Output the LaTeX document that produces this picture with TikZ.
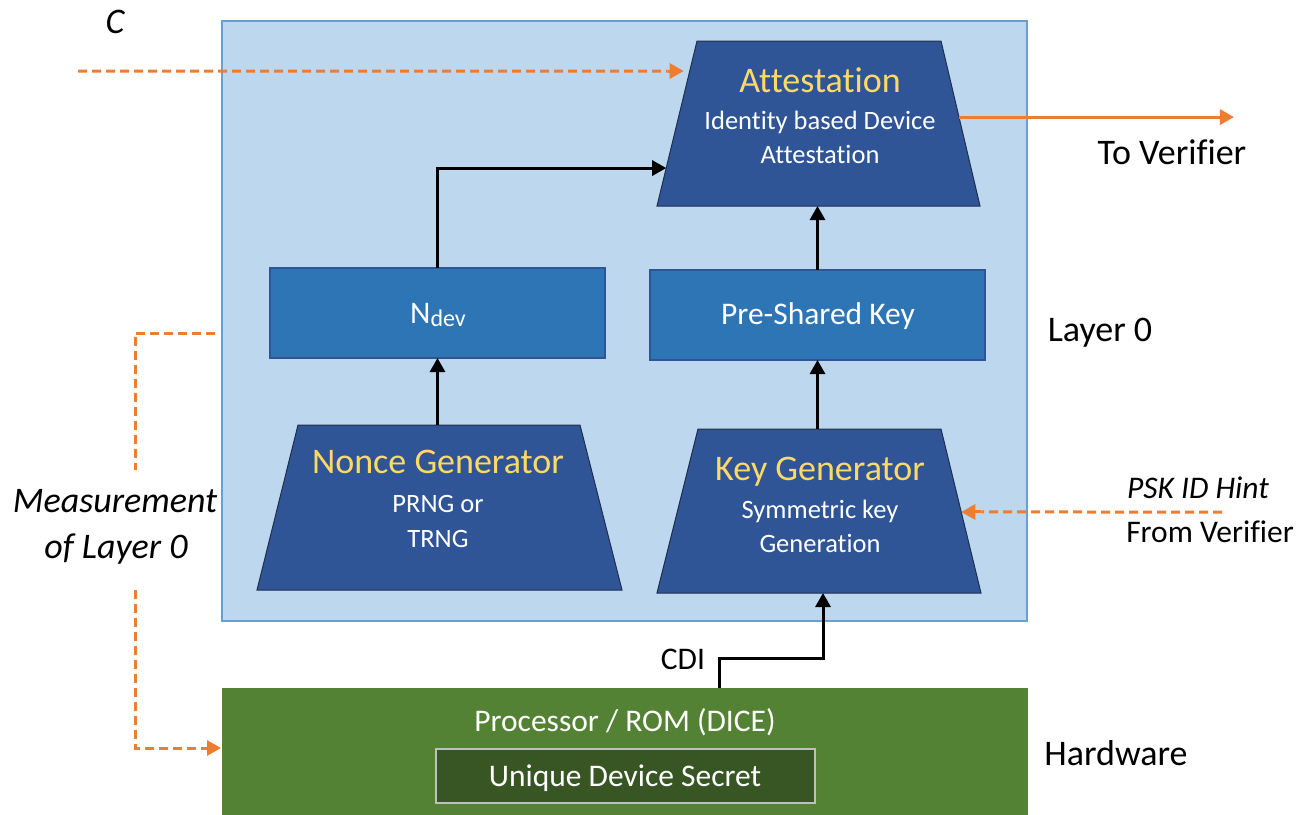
\documentclass[tikz,border=0pt]{standalone}
\usepackage{fontspec}
\setmainfont{Carlito}[Ligatures=NoCommon]
\usetikzlibrary{arrows.meta,calc}
\definecolor{layerfill}{HTML}{BDD7EE}
\definecolor{layeredge}{HTML}{6A9FD0}
\definecolor{trapblue}{HTML}{2F5597}
\definecolor{trapedge}{HTML}{1F2F50}
\definecolor{boxblue}{HTML}{2E75B6}
\definecolor{boxedge}{HTML}{2F5597}
\definecolor{headyellow}{HTML}{FFD966}
\definecolor{orange1}{HTML}{ED7D31}
\definecolor{hwgreen}{HTML}{548235}
\definecolor{udsgreen}{HTML}{375623}
\definecolor{udsedge}{HTML}{BFBFBF}
\begin{document}
\begin{tikzpicture}[x=1pt,y=-1pt,
 trapframe/.style={rectangle, inner sep=0pt, outer sep=0pt},
 trap/.style={fill=trapblue, draw=trapedge, line width=1pt, line join=miter},
 bluebox/.style={rectangle, fill=boxblue, draw=boxedge, line width=2pt, inner sep=0pt, outer sep=0pt},
 head/.style={text=headyellow, font=\fontsize{36}{40}\selectfont, anchor=base, inner sep=0pt},
 sub/.style={text=white, font=\fontsize{26.5}{30}\selectfont, anchor=base, inner sep=0pt},
 wlbl/.style={text=white, font=\fontsize{31.5}{36}\selectfont, anchor=base, inner sep=0pt},
 lbl/.style={text=black, font=\fontsize{31.5}{36}\selectfont, anchor=base, inner sep=0pt},
 big/.style={text=black, font=\fontsize{36}{40}\selectfont, anchor=base, inner sep=0pt},
 blk/.style={draw=black, line width=3pt, -{Triangle[length=14pt,width=15pt]}},
 org/.style={draw=orange1, line width=3pt, -{Triangle[length=14pt,width=15pt]}},
 orgdash/.style={draw=orange1, line width=3pt, dash pattern=on 9pt off 5pt},
]
\useasboundingbox (0,0) rectangle (1305,814);
\fill[white] (0,0) rectangle (1305,814);

% containers
\node[draw=layeredge, fill=layerfill, line width=1.5pt, minimum width=805pt, minimum height=600pt, anchor=north west, inner sep=0pt, outer sep=0pt] (layer) at (222,21) {};
\node[fill=hwgreen, minimum width=806pt, minimum height=130pt, anchor=north west, inner sep=0pt, outer sep=0pt] (hw) at (222,688) {};
\node[fill=udsgreen, draw=udsedge, line width=2pt, minimum width=379pt, minimum height=54pt, anchor=north west, inner sep=0pt, outer sep=0pt] (uds) at (436,749) {};

% trapezoid frames (bounding rectangles) and shapes
\node[trapframe, minimum width=323pt, minimum height=165pt] (att) at (818.5,123.5) {};
\coordinate (att-tl) at ($(att.north west)+(40,0)$);
\coordinate (att-tr) at ($(att.north east)+(-39,0)$);
\fill[trap] (att.south west) -- (att-tl) -- (att-tr) -- (att.south east) -- cycle;

\node[trapframe, minimum width=365pt, minimum height=165pt] (nonce) at (439.5,507.5) {};
\coordinate (nonce-tl) at ($(nonce.north west)+(41,0)$);
\coordinate (nonce-tr) at ($(nonce.north east)+(-42,0)$);
\fill[trap] (nonce.south west) -- (nonce-tl) -- (nonce-tr) -- (nonce.south east) -- cycle;

\node[trapframe, minimum width=324pt, minimum height=164pt] (kg) at (819,511) {};
\coordinate (kg-tl) at ($(kg.north west)+(41,0)$);
\coordinate (kg-tr) at ($(kg.north east)+(-40,0)$);
\fill[trap] (kg.south west) -- (kg-tl) -- (kg-tr) -- (kg.south east) -- cycle;

% boxes
\node[bluebox, minimum width=335pt, minimum height=90pt] (ndev) at (437.5,313) {};
\node[bluebox, minimum width=335pt, minimum height=90pt] (psk) at (817.5,315) {};

% texts
\node[head] (atth) at (820,92) {Attestation};
\node[sub] (atts1) at (820,129) {Identity based Device};
\node[sub] (atts2) at (820,163) {Attestation};
\node[head] (nonceh) at (438,473) {Nonce Generator};
\node[sub] (nonces1) at (438,512) {PRNG or};
\node[sub] (nonces2) at (438,547) {TRNG};
\node[head] (kgh) at (820,480) {Key Generator};
\node[sub] (kgs1) at (820,518) {Symmetric key};
\node[sub] (kgs2) at (820,552) {Generation};
\node[wlbl] (ndevt) at (438,323) {N\raisebox{-0.25ex}{\fontsize{24}{28}\selectfont dev}};
\node[wlbl] (pskt) at (818,324) {Pre-Shared Key};
\node[wlbl] (proct) at (625,731) {Processor / ROM (DICE)};
\node[wlbl] (udst) at (625,786) {Unique Device Secret};

\node[big] (layerl) at (1100,341) {Layer 0};
\node[big] (hwl) at (1116,765) {Hardware};
\node[big] (tover) at (1172,164) {To Verifier};
\node[big] (cl) at (115,33) {\itshape C};
\node[lbl] (pskhint) at (1198,498) {\itshape PSK ID Hint};
\node[lbl] (fromver) at (1210,542) {From Verifier};
\node[big] (meas1) at (115,512) {\itshape Measurement};
\node[big] (meas2) at (116,558) {\itshape of Layer 0};
\node[lbl] (cdi) at (683,669) {CDI};

% edge points on trapezoid sides
\coordinate (attL) at ($(att.south west)!0.23!(att-tl)$);
\coordinate (attC) at ($(att.south west)!0.818!(att-tl)$);
\coordinate (attR) at ($(att.south east)!0.539!(att-tr)$);
\coordinate (kgR) at ($(kg.south east)!0.494!(kg-tr)$);

% black connectors
\draw[blk] (ndev.north) |- (attL);
\draw[blk] (nonce.north -| ndev.south) -- (ndev.south);
\draw[blk] (psk.north) -- (psk.north |- att.south);
\draw[blk] (kg.north -| psk.south) -- (psk.south);
\draw[blk] ($(hw.north west)+(497,0)$) |- ($(kg.south)+(4,65)$) -- ($(kg.south)+(4,0)$);

% orange connectors
\coordinate (cin) at (78,71);
\draw[orgdash] (cin) -- ($(attC)+(-22,0)$);
\draw[org] ($(attC)+(-22,0)$) -- ($(attC)+(-6,0)$);
\draw[org] (attR) -- ++(275,0);
\coordinate (hintin) at (1222,512);
\draw[orgdash] (hintin) -- ($(kgR)+(20,0)$);
\draw[org] ($(kgR)+(20,0)$) -- (kgR);
\coordinate (m1) at ($(layer.north west)+(-7,312)$);
\draw[orgdash] (m1) -- (135,333) -- (135,470);
\draw[orgdash] (135,590) -- (135,748) -- ($(hw.north west)+(-18,60)$);
\draw[org] ($(hw.north west)+(-18,60)$) -- ($(hw.north west)+(-1,60)$);
\end{tikzpicture}
\end{document}
